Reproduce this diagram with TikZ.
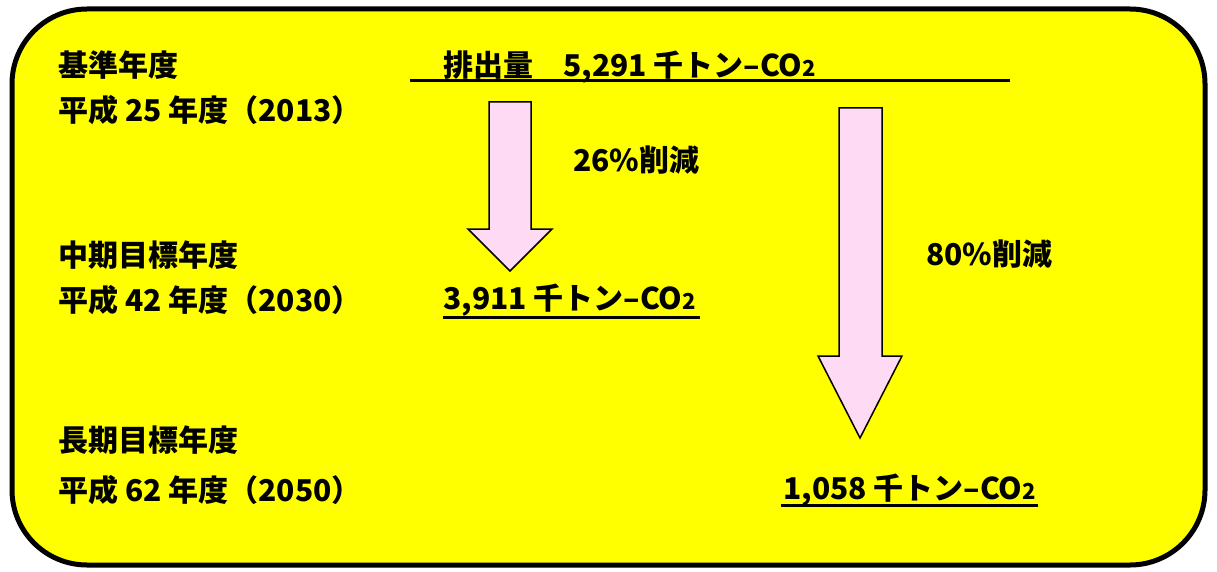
\documentclass[tikz,border=0pt]{standalone}
\usepackage{fontspec}
\setmainfont{Noto Sans CJK JP}
\definecolor{bgyellow}{RGB}{255,255,0}
\definecolor{arrowpink}{RGB}{255,218,245}
\newcommand{\cotwo}{CO\raisebox{0pt}{\fontsize{22}{23}\selectfont 2}}
\begin{document}
\begin{tikzpicture}[x=1pt,y=-1pt,
  lbl/.style={anchor=west,inner sep=0pt,font=\fontsize{30}{32}\selectfont\bfseries},
  blockarrow/.style={fill=arrowpink,draw=black,line width=1.5pt,line join=miter},
  rule/.style={line width=3pt}]
\useasboundingbox (0,0) rectangle (1217,572);
\fill[white] (0,0) rectangle (1217,572);
\draw[line width=5pt,fill=bgyellow,rounded corners=75pt] (12,9) rectangle (1205,565);

% left labels
\node[lbl] (base)  at (58,65)  {基準年度};
\node[lbl] (base2) at (58,110) {平成 25 年度（2013）};
\node[lbl] (mid)   at (58,255) {中期目標年度};
\node[lbl] (mid2)  at (58,300) {平成 42 年度（2030）};
\node[lbl] (long)  at (58,440) {長期目標年度};
\node[lbl] (long2) at (58,490) {平成 62 年度（2050）};

% values
\node[lbl] (emis) at (443,67) {排出量\hspace{1em}5,291 千トン–\cotwo};
\coordinate (l1a) at (410,81);
\coordinate (l1b) at (1010,81);
\draw[rule] (l1a) -- (l1b);

\node[lbl] (v30) at (443,300) {3,911 千トン–\cotwo};
\coordinate (l2a) at (443,317);
\coordinate (l2b) at (700,317);
\draw[rule] (l2a) -- (l2b);

\node[lbl] (v50) at (783,490) {1,058 千トン–\cotwo};
\coordinate (l3a) at (781,505);
\coordinate (l3b) at (1038,505);
\draw[rule] (l3a) -- (l3b);

% arrows
\draw[blockarrow] (489,102) -- (531,102) -- (531,229) -- (552,229) -- (510,271)
  -- (468,229) -- (489,229) -- cycle;
\draw[blockarrow] (839,108) -- (882,108) -- (882,356) -- (902,356) -- (860,438)
  -- (818,356) -- (839,356) -- cycle;

\node[lbl] (r26) at (573,160) {26\%削減};
\node[lbl] (r80) at (926,254) {80\%削減};
\end{tikzpicture}
\end{document}
